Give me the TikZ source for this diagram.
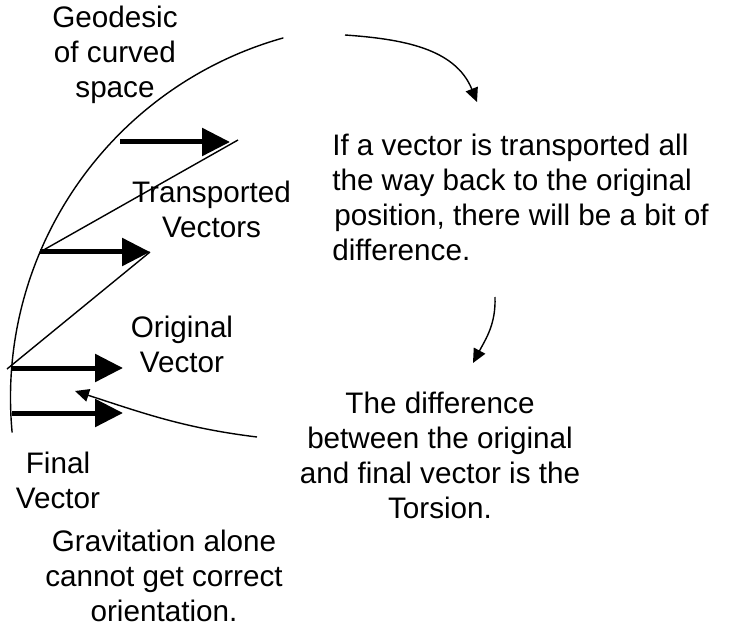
\documentclass[tikz,border=0pt]{standalone}
\usepackage{fontspec}
\setmainfont{Liberation Sans}
\usetikzlibrary{arrows.meta}
\tikzset{
  geodesic/.style={line width=1pt, draw=black, line cap=round},
  chord/.style={line width=1pt, draw=black},
  vecarrow/.style={line width=0.125cm, draw=black, -{Triangle[length=0.7cm,width=0.68cm]}},
  notearrow/.style={line width=1pt, draw=black, -{Triangle[length=0.35cm,width=0.32cm]}},
  notetext/.style={font=\fontsize{21.1}{24.9}\selectfont, align=center, inner sep=0pt, anchor=north},
}
\begin{document}
\begin{tikzpicture}
\useasboundingbox (0,0) rectangle (18.325,15.75);
\coordinate (geotop) at (7.075,14.800);
\coordinate (topbase) at (3.000,12.200);
\coordinate (toptip) at (5.750,12.200);
\coordinate (midbase) at (1.000,9.450);
\coordinate (midtip) at (3.750,9.450);
\coordinate (origbase) at (0.300,6.550);
\coordinate (origtip) at (3.075,6.550);
\coordinate (finbase) at (0.300,5.425);
\coordinate (fintip) at (3.075,5.425);
\coordinate (chordstart) at (0.175,6.525);
\coordinate (chordend) at (5.950,12.250);
\draw[geodesic] (geotop) arc[start angle=105.7, end angle=185.3, radius=9.34];
\draw[chord] (chordstart) -- (midtip);
\draw[chord] (midbase) -- (chordend);
\draw[vecarrow] (topbase) -- (toptip);
\draw[vecarrow] (midbase) -- (midtip);
\draw[vecarrow] (origbase) -- (origtip);
\draw[vecarrow] (finbase) -- (fintip);
\node[notetext] (geod) at (2.875,15.618) {Geodesic\\of curved\\space};
\node[notetext] (transp) at (5.288,11.243) {Transported\\Vectors};
\node[notetext] (orig) at (4.550,7.868) {Original\\Vector};
\node[notetext] (final) at (1.450,4.468) {Final\\Vector};
\node[notetext] (grav) at (4.100,2.518) {Gravitation alone\\cannot get correct\\orientation.};
\node[notetext, anchor=north west, align=left] (transnote) at (8.300,12.418) {If a vector is transported all\\the way back to the original\\\hspace{1.5pt}position, there will be a bit of\\difference.};
\node[notetext] (diffnote) at (11.000,5.968) {The difference\\between the original\\and final vector is the\\Torsion.};
\coordinate (arcAstart) at (8.625,14.875);
\coordinate (arcAend) at (11.925,13.200);
\coordinate (arcBstart) at (12.375,8.325);
\coordinate (arcBend) at (11.825,6.675);
\coordinate (arcCstart) at (6.425,4.825);
\coordinate (arcCend) at (1.875,5.975);
\draw[notearrow] (arcAstart) to[out=-4, in=112] (arcAend);
\draw[notearrow] (arcBstart) to[out=-88, in=62] (arcBend);
\draw[notearrow] (arcCstart) to[out=173, in=-18] (arcCend);
\end{tikzpicture}
\end{document}
